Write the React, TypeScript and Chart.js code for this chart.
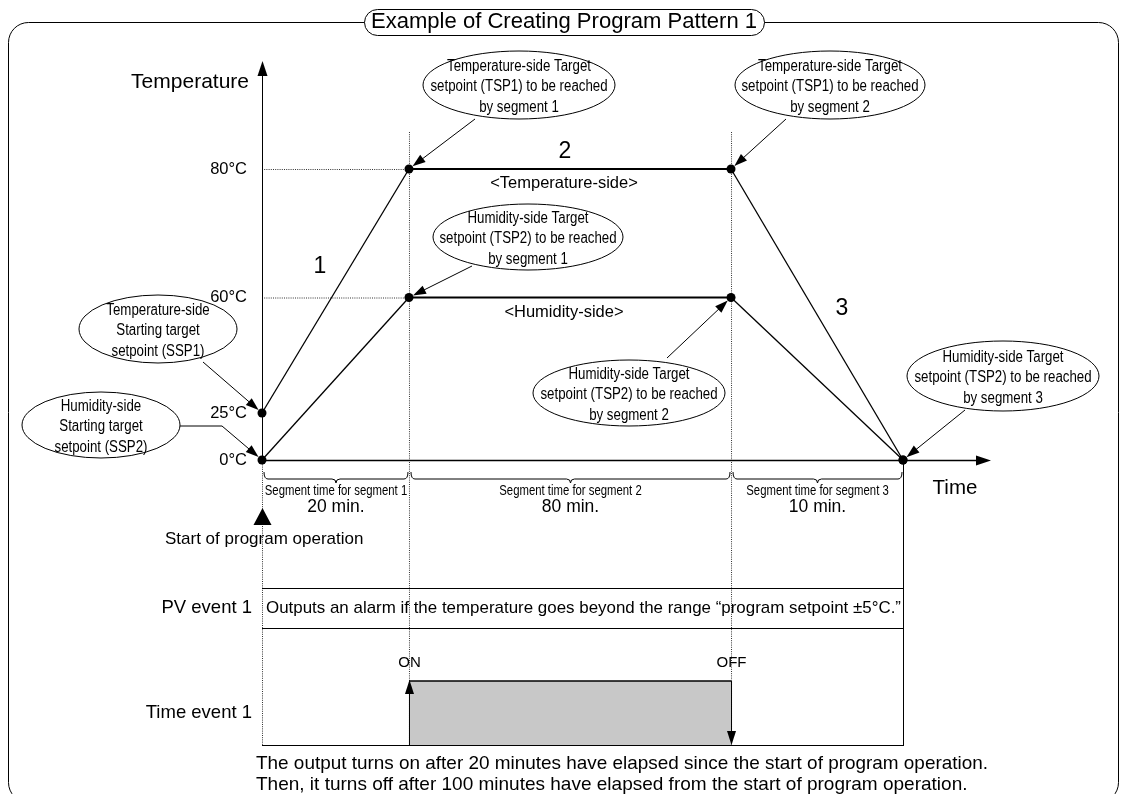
import React, { useEffect, useRef } from 'react';
import { Chart, registerables, LinearScale } from 'chart.js';

Chart.register(...registerables);

// ---------------- data ----------------
const timeMinutes = [0, 20, 100, 110];
const temperatureSide = [25, 80, 80, 0];
const humiditySide = [0, 60, 60, 0];
const yTickValues = [0, 25, 60, 80];
const yTickLabels = ['0°C', '25°C', '60°C', '80°C'];
const segmentNumbers = ['1', '2', '3'];
const segmentTimeLabels = ['Segment time for segment 1', 'Segment time for segment 2', 'Segment time for segment 3'];
const segmentDurations = ['20 min.', '80 min.', '10 min.'];
const timeEventOn = 20;
const timeEventOff = 100;

// schematic (non-proportional) axes of the original drawing: value -> fraction of axis length
const AXIS_KNOTS: Record<string, number[][]> = {
  x: [[0, 0], [20, 0.2293], [100, 0.7317], [110, 1]],
  y: [[0, 0], [25, 0.1615], [60, 0.5584], [80, 1]],
};

function toFrac(k: number[][], v: number) {
  for (let i = 1; i < k.length; i++) {
    if (v <= k[i][0] || i === k.length - 1) {
      const [v0, f0] = k[i - 1];
      const [v1, f1] = k[i];
      return f0 + ((v - v0) / (v1 - v0)) * (f1 - f0);
    }
  }
  return 0;
}
function fromFrac(k: number[][], f: number) {
  for (let i = 1; i < k.length; i++) {
    if (f <= k[i][1] || i === k.length - 1) {
      const [v0, f0] = k[i - 1];
      const [v1, f1] = k[i];
      return v0 + ((f - f0) / (f1 - f0)) * (v1 - v0);
    }
  }
  return 0;
}

class SchematicScale extends LinearScale {
  static id = 'schematic';
  getPixelForValue(value: any) {
    if (value === null || value === undefined || isNaN(value)) return NaN;
    return this.getPixelForDecimal(toFrac(AXIS_KNOTS[(this as any).id], value));
  }
  getValueForPixel(pixel: number) {
    return fromFrac(AXIS_KNOTS[(this as any).id], this.getDecimalForPixel(pixel));
  }
}
Chart.register(SchematicScale as any);

const FONT = '"Liberation Sans", Arial, Helvetica, sans-serif';

function txt(ctx: CanvasRenderingContext2D, s: string, x: number, y: number, size: number,
  align: CanvasTextAlign = 'center', sx = 1, maxW?: number) {
  ctx.save();
  ctx.font = `${size}px ${FONT}`;
  ctx.textBaseline = 'middle';
  ctx.textAlign = align;
  ctx.fillStyle = '#000';
  ctx.translate(x, y);
  ctx.scale(sx, 1);
  if (maxW) ctx.fillText(s, 0, 0, maxW / sx);
  else ctx.fillText(s, 0, 0);
  ctx.restore();
}

function head(ctx: CanvasRenderingContext2D, x1: number, y1: number, x2: number, y2: number, len = 13, half = 4.5) {
  const a = Math.atan2(y2 - y1, x2 - x1);
  const c = Math.cos(a), s = Math.sin(a);
  ctx.beginPath();
  ctx.moveTo(x2, y2);
  ctx.lineTo(x2 - len * c + half * s, y2 - len * s - half * c);
  ctx.lineTo(x2 - len * c - half * s, y2 - len * s + half * c);
  ctx.closePath();
  ctx.fill();
}

function arrowPath(ctx: CanvasRenderingContext2D, pts: number[][], gap = 4, len = 13, half = 4.5) {
  const n = pts.length;
  const [ax, ay] = pts[n - 2];
  const [bx, by] = pts[n - 1];
  const d = Math.hypot(bx - ax, by - ay);
  const tx = bx - ((bx - ax) / d) * gap;
  const ty = by - ((by - ay) / d) * gap;
  ctx.save();
  ctx.strokeStyle = '#000';
  ctx.fillStyle = '#000';
  ctx.lineWidth = 1;
  ctx.beginPath();
  ctx.moveTo(pts[0][0], pts[0][1]);
  for (let i = 1; i < n - 1; i++) ctx.lineTo(pts[i][0], pts[i][1]);
  ctx.lineTo(tx - ((bx - ax) / d) * len * 0.8, ty - ((by - ay) / d) * len * 0.8);
  ctx.stroke();
  head(ctx, ax, ay, tx, ty, len, half);
  ctx.restore();
}

function ellipseNote(ctx: CanvasRenderingContext2D, cx: number, cy: number, rx: number, ry: number, lines: string[]) {
  ctx.save();
  ctx.beginPath();
  ctx.ellipse(cx, cy, rx, ry, 0, 0, Math.PI * 2);
  ctx.fillStyle = '#fff';
  ctx.fill();
  ctx.strokeStyle = '#000';
  ctx.lineWidth = 1;
  ctx.stroke();
  ctx.restore();
  const lh = 20.5;
  lines.forEach((l, i) => txt(ctx, l, cx, cy + 2 + (i - (lines.length - 1) / 2) * lh, 16, 'center', 0.83));
}

function dotted(ctx: CanvasRenderingContext2D, x1: number, y1: number, x2: number, y2: number) {
  ctx.save();
  ctx.strokeStyle = '#333';
  ctx.lineWidth = 1;
  ctx.setLineDash([1, 1.2]);
  ctx.beginPath();
  ctx.moveTo(x1, y1);
  ctx.lineTo(x2, y2);
  ctx.stroke();
  ctx.restore();
}

function brace(ctx: CanvasRenderingContext2D, xa: number, xb: number, y0: number, y1: number) {
  const xm = (xa + xb) / 2;
  ctx.save();
  ctx.strokeStyle = '#000';
  ctx.lineWidth = 1;
  ctx.beginPath();
  ctx.moveTo(xa, y0);
  ctx.quadraticCurveTo(xa, y1, xa + 4, y1);
  ctx.lineTo(xm - 4, y1);
  ctx.quadraticCurveTo(xm, y1, xm, y1 + 4);
  ctx.quadraticCurveTo(xm, y1, xm + 4, y1);
  ctx.lineTo(xb - 4, y1);
  ctx.quadraticCurveTo(xb, y1, xb, y0);
  ctx.stroke();
  ctx.restore();
}

const ROW_TOP = 588;
const ROW_MID = 628;
const ROW_BOTTOM = 745;

const backgroundPlugin = {
  id: 'diagramBackground',
  beforeDatasetsDraw(chart: any) {
    const ctx: CanvasRenderingContext2D = chart.ctx;
    const xs = chart.scales.x, ys = chart.scales.y;
    const px = (t: number) => xs.getPixelForValue(t);
    const py = (v: number) => ys.getPixelForValue(v);
    const x0 = px(timeMinutes[0]);
    const x1 = px(timeMinutes[1]);
    const x2 = px(timeMinutes[2]);
    const x3 = px(timeMinutes[3]);
    const yb = py(0);

    ctx.save();
    // outer frame
    ctx.strokeStyle = '#000';
    ctx.lineWidth = 1;
    ctx.beginPath();
    (ctx as any).roundRect(8.5, 22.5, 1110, 780, 20);
    ctx.stroke();
    // title capsule
    ctx.beginPath();
    (ctx as any).roundRect(364.5, 9.5, 400, 26, 13);
    ctx.fillStyle = '#fff';
    ctx.fill();
    ctx.stroke();
    ctx.restore();
    txt(ctx, 'Example of Creating Program Pattern 1', 564, 22, 22.5, 'center', 0.98);

    // dotted guides
    dotted(ctx, x0, py(80) + 0.5, x1, py(80) + 0.5);
    dotted(ctx, x0, py(60) + 0.5, x1, py(60) + 0.5);
    dotted(ctx, x1 + 0.5, 132, x1 + 0.5, ROW_BOTTOM);
    dotted(ctx, x2 + 0.5, 132, x2 + 0.5, ROW_BOTTOM);
    dotted(ctx, x0 + 0.5, yb, x0 + 0.5, ROW_BOTTOM);

    ctx.save();
    ctx.strokeStyle = '#000';
    ctx.fillStyle = '#000';
    // y axis
    ctx.lineWidth = 1;
    ctx.beginPath();
    ctx.moveTo(x0 + 0.5, yb);
    ctx.lineTo(x0 + 0.5, 72);
    ctx.stroke();
    head(ctx, x0 + 0.5, 200, x0 + 0.5, 61, 15, 5);
    // x axis
    ctx.lineWidth = 1.3;
    ctx.beginPath();
    ctx.moveTo(x0, yb + 0.5);
    ctx.lineTo(980, yb + 0.5);
    ctx.stroke();
    head(ctx, 900, yb + 0.5, 991, yb + 0.5, 15, 5);
    // right border of time rows
    ctx.lineWidth = 1;
    ctx.beginPath();
    ctx.moveTo(x3 + 0.5, yb);
    ctx.lineTo(x3 + 0.5, ROW_BOTTOM);
    ctx.stroke();
    // table lines
    [ROW_TOP, ROW_MID, ROW_BOTTOM].forEach((yy) => {
      ctx.beginPath();
      ctx.moveTo(x0, yy + 0.5);
      ctx.lineTo(x3 + 1, yy + 0.5);
      ctx.stroke();
    });
    // time event 1 box
    const xo = px(timeEventOn), xf = px(timeEventOff);
    ctx.fillStyle = '#c8c8c8';
    ctx.fillRect(xo, 681, xf - xo, ROW_BOTTOM - 681);
    ctx.lineWidth = 1.6;
    ctx.beginPath();
    ctx.moveTo(xo, 681);
    ctx.lineTo(xf, 681);
    ctx.stroke();
    ctx.lineWidth = 1;
    ctx.beginPath();
    ctx.moveTo(xo + 0.5, ROW_BOTTOM);
    ctx.lineTo(xo + 0.5, 690);
    ctx.moveTo(xf + 0.5, 681);
    ctx.lineTo(xf + 0.5, ROW_BOTTOM - 8);
    ctx.stroke();
    ctx.fillStyle = '#000';
    head(ctx, xo + 0.5, ROW_BOTTOM, xo + 0.5, 680, 14, 4.5);
    head(ctx, xf + 0.5, 681, xf + 0.5, ROW_BOTTOM, 14, 4.5);
    ctx.restore();

    // braces and segment-time labels
    const bounds = [x0, x1, x2, x3];
    for (let i = 0; i < 3; i++) {
      const a = bounds[i] + 2, b = bounds[i + 1] - 1;
      brace(ctx, a, b, 472, 479);
      const cx = (a + b) / 2;
      txt(ctx, segmentTimeLabels[i], cx, 491, 14, 'center', 0.81);
      txt(ctx, segmentDurations[i], cx, 507, 17.5);
    }

    // start of program operation
    ctx.save();
    ctx.fillStyle = '#000';
    ctx.beginPath();
    ctx.moveTo(x0 + 0.5, 508);
    ctx.lineTo(x0 + 9.5, 525);
    ctx.lineTo(x0 - 8.5, 525);
    ctx.closePath();
    ctx.fill();
    ctx.restore();
    txt(ctx, 'Start of program operation', 165, 539, 17, 'left');

    // event rows
    txt(ctx, 'PV event 1', 252, 608, 18.5, 'right');
    txt(ctx, 'Outputs an alarm if the temperature goes beyond the range \u201Cprogram setpoint \u00B15\u00B0C.\u201D', 266, 608, 17, 'left', 1, 635);
    txt(ctx, 'Time event 1', 252, 713, 18.5, 'right');
    txt(ctx, 'ON', xo + 0.5, 663, 15);
    txt(ctx, 'OFF', xf + 0.5, 663, 15);
    txt(ctx, 'The output turns on after 20 minutes have elapsed since the start of program operation.', 256, 764, 19, 'left', 1, 732);
    txt(ctx, 'Then, it turns off after 100 minutes have elapsed from the start of program operation.', 256, 785, 19, 'left', 1, 719);

    // axis titles
    txt(ctx, 'Temperature', 249, 82, 21, 'right');
    txt(ctx, 'Time', 955, 488, 20.5);
  },
  afterDatasetsDraw(chart: any) {
    const ctx: CanvasRenderingContext2D = chart.ctx;
    const xs = chart.scales.x, ys = chart.scales.y;
    const pt = (t: number, v: number) => [xs.getPixelForValue(t), ys.getPixelForValue(v)];

    // segment numbers
    txt(ctx, segmentNumbers[0], 320, 267, 23);
    txt(ctx, segmentNumbers[1], 565, 152, 23);
    txt(ctx, segmentNumbers[2], 842, 309, 23);
    txt(ctx, '<Temperature-side>', 564, 183, 16.5);
    txt(ctx, '<Humidity-side>', 564, 312, 16.5);

    const notes = [
      { c: [519, 85, 96, 34], lines: ['Temperature-side Target', 'setpoint (TSP1) to be reached', 'by segment 1'], path: [[475, 119]], to: [timeMinutes[1], temperatureSide[1]] },
      { c: [830, 85, 95, 34], lines: ['Temperature-side Target', 'setpoint (TSP1) to be reached', 'by segment 2'], path: [[786, 119]], to: [timeMinutes[2], temperatureSide[2]] },
      { c: [528, 237, 95, 33], lines: ['Humidity-side Target', 'setpoint (TSP2) to be reached', 'by segment 1'], path: [[472, 266]], to: [timeMinutes[1], humiditySide[1]] },
      { c: [629, 393, 96, 33], lines: ['Humidity-side Target', 'setpoint (TSP2) to be reached', 'by segment 2'], path: [[667, 358]], to: [timeMinutes[2], humiditySide[2]] },
      { c: [1003, 376, 96, 35], lines: ['Humidity-side Target', 'setpoint (TSP2) to be reached', 'by segment 3'], path: [[965, 410]], to: [timeMinutes[3], humiditySide[3]] },
      { c: [158, 329, 79, 34], lines: ['Temperature-side', 'Starting target', 'setpoint (SSP1)'], path: [[203, 362]], to: [timeMinutes[0], temperatureSide[0]] },
      { c: [101, 425, 79, 33], lines: ['Humidity-side', 'Starting target', 'setpoint (SSP2)'], path: [[180, 426], [222, 426]], to: [timeMinutes[0], humiditySide[0]] },
    ];
    notes.forEach((n) => {
      arrowPath(ctx, [...n.path, pt(n.to[0], n.to[1])], 4.5);
    });
    notes.forEach((n) => {
      ellipseNote(ctx, n.c[0], n.c[1], n.c[2], n.c[3], n.lines);
    });
  },
};

export default function App() {
  const ref = useRef<HTMLCanvasElement>(null);
  useEffect(() => {
    if (!ref.current) return;
    const flatOrSlope = (ctx: any) => (ctx.p0.parsed.y === ctx.p1.parsed.y ? 2 : 1.3);
    const chart = new Chart(ref.current, {
      type: 'line',
      data: {
        datasets: [
          {
            label: 'Temperature-side',
            data: timeMinutes.map((t, i) => ({ x: t, y: temperatureSide[i] })),
            borderColor: '#000',
            backgroundColor: '#000',
            borderWidth: 1.3,
            pointRadius: 4.5,
            pointBackgroundColor: '#000',
            pointBorderWidth: 0,
            tension: 0,
            clip: false as any,
            segment: { borderWidth: flatOrSlope },
          },
          {
            label: 'Humidity-side',
            data: timeMinutes.map((t, i) => ({ x: t, y: humiditySide[i] })),
            borderColor: '#000',
            backgroundColor: '#000',
            borderWidth: 1.3,
            pointRadius: 4.5,
            pointBackgroundColor: '#000',
            pointBorderWidth: 0,
            tension: 0,
            clip: false as any,
            segment: { borderWidth: flatOrSlope },
          },
        ],
      },
      options: {
        responsive: false,
        animation: false,
        devicePixelRatio: 1,
        layout: { padding: { left: 0, right: 219, top: 169, bottom: 334 } },
        plugins: { legend: { display: false }, tooltip: { enabled: false } },
        scales: {
          x: { type: 'schematic' as any, min: 0, max: 110, display: false },
          y: {
            type: 'schematic' as any,
            min: 0,
            max: 80,
            afterFit: (s: any) => { s.width = 262; },
            afterBuildTicks: (s: any) => { s.ticks = yTickValues.map((v) => ({ value: v })); },
            grid: { display: false },
            border: { display: false },
            ticks: {
              padding: 7,
              color: '#000',
              font: { family: FONT, size: 16.5 },
              callback: (v: any) => yTickLabels[yTickValues.indexOf(Number(v))] ?? '',
            },
          },
        } as any,
      },
      plugins: [backgroundPlugin],
    });
    return () => chart.destroy();
  }, []);
  return (
    <div style={{ position: 'fixed', left: 0, top: 0, width: 1122, height: 794, background: '#fff' }}>
      <canvas ref={ref} width={1122} height={794} style={{ display: 'block' }} />
    </div>
  );
}
